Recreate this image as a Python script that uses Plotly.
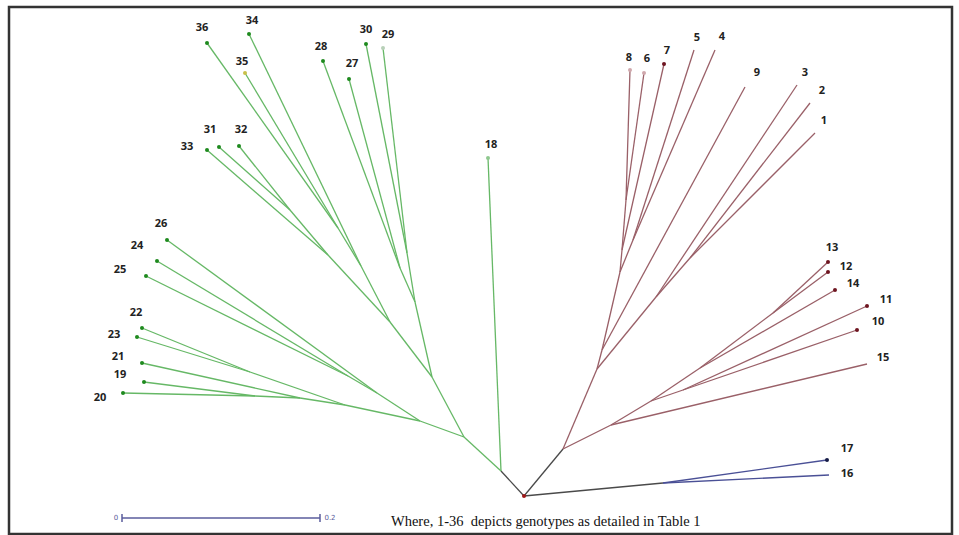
import plotly.graph_objects as go

# ---- tree layout (unrooted dendrogram), nodes in page units ----
node_names = ["root", "B1", "G0", "G1", "R0", "R2", "R3", "R4", "R5", "R6",
              "R1", "A123", "A12", "S9", "S2", "N45", "N678", "N68",
              "U1", "U2", "U3", "U4", "U5", "N2827", "N3029", "N3536", "N3132",
              "L1", "L2", "L2b", "L3", "N2223", "N1921", "N1920",
              "1", "2", "3", "4", "5", "6", "7", "8", "9", "10", "11", "12", "13", "14",
              "15", "16", "17", "18", "19", "20", "21", "22", "23", "24", "25", "26",
              "27", "28", "29", "30", "31", "32", "33", "34", "35", "36"]
node_x = [524, 663, 501, 464, 563, 611, 651, 683, 700, 773,
          597, 656, 690, 602, 620, 633, 622, 626,
          432, 415, 390, 361, 328, 400, 407, 338, 290,
          420, 377, 348, 345, 250, 300, 255,
          815, 810, 797, 715, 694, 644, 664, 630, 745, 857, 867, 828, 828, 835,
          867, 829, 827, 488, 144, 123, 142, 142, 137, 157, 146, 167,
          349, 323, 383, 366, 219, 239, 207, 249, 245, 207]
node_y = [496, 483, 471, 437, 449, 425, 401, 390, 368, 313,
          369, 297, 258, 350, 272, 240, 250, 200,
          377, 302, 322, 266, 255, 268, 253, 228, 210,
          421, 393, 376, 405, 372, 398, 396,
          133, 103, 85, 50, 50, 73, 64, 70, 87, 330, 306, 272, 262, 290,
          364, 475, 460, 158, 382, 393, 363, 328, 337, 261, 276, 240,
          79, 61, 48, 44, 147, 146, 150, 34, 73, 43]

# edges: parent, child, clade
edge_parent = ["root", "root", "root",
               "B1", "B1",
               "R0", "R0", "R2", "R2", "R3", "R3", "R4", "R4", "R5", "R5", "R6", "R6",
               "R1", "R1", "A123", "A123", "A12", "A12", "S9", "S9", "S2", "S2",
               "N45", "N45", "N678", "N678", "N68", "N68",
               "G0", "G0", "G1", "G1", "L1", "L1", "L2", "L2", "L2b", "L2b",
               "L3", "L3", "N2223", "N2223", "N1921", "N1921", "N1920", "N1920",
               "U1", "U1", "U2", "U2", "N2827", "N2827", "N3029", "N3029",
               "U3", "U3", "U4", "U4", "N3536", "N3536", "U5", "U5", "N3132", "N3132"]
edge_child = ["B1", "G0", "R0",
              "17", "16",
              "R2", "R1", "15", "R3", "R4", "R5", "10", "11", "14", "R6", "12", "13",
              "A123", "S9", "3", "A12", "1", "2", "9", "S2", "N45", "N678",
              "4", "5", "7", "N68", "6", "8",
              "18", "G1", "U1", "L1", "L2", "L3", "26", "L2b", "24", "25",
              "N2223", "N1921", "22", "23", "21", "N1920", "19", "20",
              "U2", "U3", "N2827", "N3029", "28", "27", "30", "29",
              "U4", "U5", "34", "N3536", "36", "35", "33", "N3132", "31", "32"]
edge_clade = ["stem", "stem", "stem", "blue", "blue"] + ["red"] * 28 + ["green"] * 36

clade_colors = {"stem": "#4a4a4a", "blue": "#4a5096", "red": "#9a6068", "green": "#66b866"}

# tip dots
dot_tips = ["7", "10", "11", "12", "13", "14", "17", "6", "8", "18", "29", "35",
            "19", "20", "21", "22", "23", "24", "25", "26", "27", "28", "30",
            "31", "32", "33", "34", "36", "root"]
dot_colors = ["#6e1520"] * 6 + ["#151a45", "#d0a8ad", "#d0a8ad", "#8fc88f", "#b8d0b8", "#c9c04a"] + \
             ["#1e8a1e"] * 16 + ["#a01818"]

# tip labels and their positions
label_text = ["1", "2", "3", "4", "5", "6", "7", "8", "9", "10", "11", "12", "13", "14", "15",
              "16", "17", "18", "19", "20", "21", "22", "23", "24", "25", "26", "27", "28",
              "29", "30", "31", "32", "33", "34", "35", "36"]
label_x = [824, 822, 805, 722, 697, 647, 667, 629, 757, 878, 886, 846, 832, 853, 883,
           847, 847, 491, 120, 100, 118, 136, 114, 137, 120, 161, 352, 321,
           388, 366, 210, 241, 187, 252, 242, 202]
label_y = [121, 91, 73, 37, 38, 59, 51, 58, 73, 322, 300, 267, 248, 284, 358,
           474, 449, 145, 375, 398, 357, 313, 335, 246, 270, 224, 64, 47,
           35, 30, 130, 130, 147, 21, 62, 28]

scale_values = [0, 0.2]
scale_labels = ["0", "0.2"]
caption = "Where, 1-36  depicts genotypes as detailed in Table 1"

pos = {n: (x, y) for n, x, y in zip(node_names, node_x, node_y)}

fig = go.Figure()
for clade, col in clade_colors.items():
    xs, ys = [], []
    for p, c, k in zip(edge_parent, edge_child, edge_clade):
        if k == clade:
            xs += [pos[p][0], pos[c][0], None]
            ys += [pos[p][1], pos[c][1], None]
    fig.add_trace(go.Scatter(x=xs, y=ys, mode="lines", line=dict(color=col, width=1.3),
                             hoverinfo="skip", showlegend=False))

fig.add_trace(go.Scatter(x=[pos[t][0] for t in dot_tips], y=[pos[t][1] for t in dot_tips],
                         mode="markers", marker=dict(size=4, color=dot_colors),
                         hoverinfo="skip", showlegend=False))

fig.add_trace(go.Scatter(x=label_x, y=label_y, mode="text", text=label_text,
                         textfont=dict(family="Open Sans", size=11, color="#222222", weight="bold"),
                         hoverinfo="skip", showlegend=False))

# scale bar: 0.2 units spans 198 px
px_per_unit = 198 / 0.2
sx0 = 122
sxs = [sx0 + v * px_per_unit for v in scale_values]
fig.add_trace(go.Scatter(x=[sxs[0], sxs[1], None, sxs[0], sxs[0], None, sxs[1], sxs[1]],
                         y=[518, 518, None, 514, 522, None, 514, 522],
                         mode="lines", line=dict(color="#5a5c9c", width=1.5),
                         hoverinfo="skip", showlegend=False))
fig.add_trace(go.Scatter(x=[sxs[0] - 6, sxs[1] + 10], y=[518, 518], mode="text",
                         text=scale_labels, textfont=dict(family="DejaVu Sans", size=7, color="#5a5c9c"),
                         hoverinfo="skip", showlegend=False))

fig.add_annotation(x=546, y=521, text=caption, showarrow=False, xref="x", yref="y",
                   font=dict(family="Liberation Serif", size=14.5, color="#111111"))

# frame
fig.add_shape(type="rect", x0=9, y0=7, x1=952, y1=534, xref="x", yref="y",
              line=dict(color="#333333", width=2.5))

fig.update_layout(width=959, height=535, margin=dict(l=0, r=0, t=0, b=0),
                  paper_bgcolor="white", plot_bgcolor="white",
                  xaxis=dict(range=[0, 959], visible=False, fixedrange=True),
                  yaxis=dict(range=[535, 0], visible=False, fixedrange=True))
fig.write_html("out.html")
